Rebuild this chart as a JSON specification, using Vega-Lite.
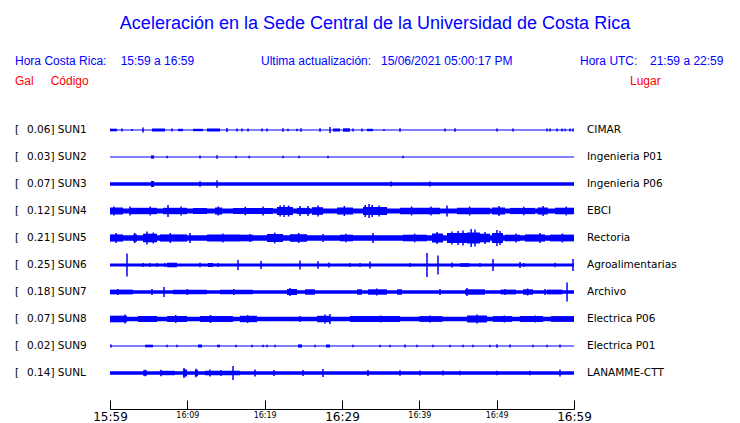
{
  "$schema": "https://vega.github.io/schema/vega-lite/v6.json",
  "autosize": {"type": "none"},
  "width": 464,
  "height": 369,
  "padding": {"left": 110, "top": 40, "right": 166, "bottom": 14},
  "background": "white",
  "config": {"view": {"stroke": null}, "text": {"font": "DejaVu Sans"}},
  "title": {
    "text": "Aceleración en la Sede Central de la Universidad de Costa Rica",
    "font": "Liberation Sans", "fontSize": 18, "fontWeight": "normal", "color": "#0000ff",
    "anchor": "middle", "frame": "group", "dx": 33, "offset": -11, "baseline": "bottom"
  },
  "datasets": {
    "traces": [
      {"i": 1, "code": "SUN1", "gal": "0.06", "place": "CIMAR", "base": 0.6},
      {"i": 2, "code": "SUN2", "gal": "0.03", "place": "Ingenieria P01", "base": 0.6},
      {"i": 3, "code": "SUN3", "gal": "0.07", "place": "Ingenieria P06", "base": 1.8},
      {"i": 4, "code": "SUN4", "gal": "0.12", "place": "EBCI", "base": 2.5},
      {"i": 5, "code": "SUN5", "gal": "0.21", "place": "Rectoria", "base": 2.7},
      {"i": 6, "code": "SUN6", "gal": "0.25", "place": "Agroalimentarias", "base": 1.5},
      {"i": 7, "code": "SUN7", "gal": "0.18", "place": "Archivo", "base": 1.8},
      {"i": 8, "code": "SUN8", "gal": "0.07", "place": "Electrica P06", "base": 2.2},
      {"i": 9, "code": "SUN9", "gal": "0.02", "place": "Electrica P01", "base": 0.6},
      {"i": 10, "code": "SUNL", "gal": "0.14", "place": "LANAMME-CTT", "base": 1.7}
    ],
    "bursts": [
      {"i":1,"t0":0,"t1":0.9,"a":1.3},{"i":1,"t0":5.43,"t1":7.11,"a":1.5},{"i":1,"t0":8.79,"t1":9.44,"a":1.2},{"i":1,"t0":10.73,"t1":12.03,"a":1.2},{"i":1,"t0":12.54,"t1":14.22,"a":1.5},{"i":1,"t0":28.84,"t1":29.74,"a":1.5},{"i":1,"t0":30.13,"t1":31.03,"a":1.7},{"i":1,"t0":33.23,"t1":34.01,"a":1.2},
      {"i":2,"t0":5.3,"t1":5.7,"a":1.6},
      {"i":3,"t0":5.3,"t1":5.7,"a":3},
      {"i":4,"t0":0,"t1":1.68,"a":3.5},{"i":4,"t0":2.59,"t1":6.08,"a":3.2},{"i":4,"t0":6.85,"t1":9.96,"a":3.2},{"i":4,"t0":10.73,"t1":12.54,"a":3},{"i":4,"t0":13.58,"t1":14.5,"a":3.5},{"i":4,"t0":15.91,"t1":21.08,"a":3.1},{"i":4,"t0":21.59,"t1":23.66,"a":4},{"i":4,"t0":24.18,"t1":25.86,"a":3.1},{"i":4,"t0":26.12,"t1":27.54,"a":3.8},{"i":4,"t0":29.35,"t1":31.42,"a":3.5},{"i":4,"t0":32.72,"t1":35.82,"a":4},{"i":4,"t0":37.5,"t1":42.67,"a":3.2},{"i":4,"t0":44.87,"t1":49.14,"a":3.2},{"i":4,"t0":49.4,"t1":51.08,"a":3.5},{"i":4,"t0":51.72,"t1":54.96,"a":3.1},{"i":4,"t0":55.3,"t1":56.6,"a":3.5},{"i":4,"t0":57.54,"t1":60,"a":3.3},
      {"i":5,"t0":0,"t1":1.68,"a":3.6},{"i":5,"t0":2.97,"t1":3.49,"a":3.6},{"i":5,"t0":4.27,"t1":6.08,"a":4.3},{"i":5,"t0":6.47,"t1":9.96,"a":3.6},{"i":5,"t0":12.54,"t1":16.81,"a":3.4},{"i":5,"t0":16.81,"t1":18.49,"a":3.3},{"i":5,"t0":20.3,"t1":22.37,"a":4},{"i":5,"t0":23.28,"t1":25.47,"a":3.8},{"i":5,"t0":29.74,"t1":31.42,"a":3.3},{"i":5,"t0":37.89,"t1":40.99,"a":3.3},{"i":5,"t0":41.64,"t1":43.06,"a":4.5},{"i":5,"t0":43.58,"t1":46.16,"a":5},{"i":5,"t0":46.16,"t1":47.84,"a":5.5},{"i":5,"t0":47.84,"t1":49.14,"a":4.3},{"i":5,"t0":49.4,"t1":50.82,"a":5},{"i":5,"t0":51.08,"t1":53,"a":3.3},{"i":5,"t0":53.66,"t1":56.25,"a":3.6},{"i":5,"t0":56.9,"t1":60,"a":3.4},
      {"i":6,"t0":7.37,"t1":8.66,"a":2.3},{"i":6,"t0":12.67,"t1":13.32,"a":2},{"i":6,"t0":45.3,"t1":46.5,"a":1.8},
      {"i":7,"t0":0,"t1":2.97,"a":2.4},{"i":7,"t0":8.15,"t1":12.54,"a":2.3},{"i":7,"t0":14.22,"t1":18.49,"a":2.3},{"i":7,"t0":22.89,"t1":24.18,"a":3},{"i":7,"t0":25.22,"t1":26.51,"a":2.7},{"i":7,"t0":31.94,"t1":32.59,"a":2.7},{"i":7,"t0":33.36,"t1":35.82,"a":2.7},{"i":7,"t0":37.11,"t1":37.76,"a":2.7},{"i":7,"t0":45.91,"t1":48.49,"a":2.7},{"i":7,"t0":50.5,"t1":52.5,"a":2.4},{"i":7,"t0":53.41,"t1":54.7,"a":2.7},{"i":7,"t0":56.5,"t1":58.5,"a":2.4},
      {"i":8,"t0":0,"t1":2.2,"a":3.3},{"i":8,"t0":3.6,"t1":6.08,"a":3},{"i":8,"t0":7.37,"t1":9.96,"a":3},{"i":8,"t0":11.64,"t1":15.91,"a":3},{"i":8,"t0":16.81,"t1":19.01,"a":3.2},{"i":8,"t0":26.77,"t1":28.45,"a":3.2},{"i":8,"t0":31.03,"t1":37.5,"a":2.9},{"i":8,"t0":40,"t1":43,"a":2.9},{"i":8,"t0":46.16,"t1":48.75,"a":3.5},{"i":8,"t0":49.5,"t1":52,"a":2.9},{"i":8,"t0":53,"t1":56,"a":3},{"i":8,"t0":57,"t1":60,"a":2.9},
      {"i":9,"t0":4.53,"t1":5.56,"a":1.3},{"i":9,"t0":11.38,"t1":11.9,"a":1.5},{"i":9,"t0":13.84,"t1":14.22,"a":1.3},{"i":9,"t0":24.31,"t1":24.83,"a":1.6},{"i":9,"t0":27.93,"t1":28.45,"a":1.5},
      {"i":10,"t0":4.27,"t1":4.78,"a":2.6},{"i":10,"t0":6.47,"t1":8.4,"a":2.2},{"i":10,"t0":9.44,"t1":9.96,"a":3.5},{"i":10,"t0":10.99,"t1":11.38,"a":3.2},{"i":10,"t0":12.28,"t1":16.81,"a":2.2}
    ],
    "spikes": [
      {"i":1,"t":1.55,"a":1.5},{"i":1,"t":2.84,"a":1},{"i":1,"t":4.27,"a":2.5},{"i":1,"t":8.02,"a":1.5},{"i":1,"t":15.13,"a":2},{"i":1,"t":16.42,"a":1.5},{"i":1,"t":17.07,"a":1.5},{"i":1,"t":17.85,"a":1.5},{"i":1,"t":19.66,"a":1.5},{"i":1,"t":20.3,"a":1.5},{"i":1,"t":22.37,"a":1.8},{"i":1,"t":23.02,"a":1.2},{"i":1,"t":24.18,"a":1.2},{"i":1,"t":24.7,"a":1.8},{"i":1,"t":27.16,"a":1.8},{"i":1,"t":28.45,"a":3},{"i":1,"t":31.42,"a":1.5},{"i":1,"t":32.59,"a":1.5},{"i":1,"t":35.43,"a":1},{"i":1,"t":37.5,"a":1.8},{"i":1,"t":43.32,"a":1.5},{"i":1,"t":44.61,"a":1.8},{"i":1,"t":50.04,"a":1.5},{"i":1,"t":52.11,"a":1.5},{"i":1,"t":56.51,"a":1.5},{"i":1,"t":56.9,"a":1.5},{"i":1,"t":57.8,"a":1.5},{"i":1,"t":58.45,"a":1.5},{"i":1,"t":58.84,"a":1.2},{"i":1,"t":59.48,"a":1.5},{"i":1,"t":59.87,"a":1.5},
      {"i":2,"t":7.37,"a":1.2},{"i":2,"t":11.64,"a":1.5},{"i":2,"t":13.84,"a":1.8},{"i":2,"t":16.29,"a":1.3},{"i":2,"t":18.0,"a":1.3},{"i":2,"t":22.37,"a":1.2},{"i":2,"t":24.44,"a":1.2},{"i":2,"t":28.19,"a":1.3},{"i":2,"t":37.89,"a":1.3},
      {"i":3,"t":11.64,"a":2.8},{"i":3,"t":13.84,"a":3.8},{"i":3,"t":36.34,"a":2.5},{"i":3,"t":41.38,"a":2.5},
      {"i":4,"t":0.5,"a":4.5},{"i":4,"t":2.59,"a":4.5},{"i":4,"t":5.2,"a":4.5},{"i":4,"t":7.5,"a":6},{"i":4,"t":9.2,"a":4.5},{"i":4,"t":14.0,"a":4.5},{"i":4,"t":17.5,"a":4.3},{"i":4,"t":19.8,"a":4.5},{"i":4,"t":22.0,"a":5.5},{"i":4,"t":22.5,"a":6},{"i":4,"t":23.1,"a":5.5},{"i":4,"t":24.57,"a":5},{"i":4,"t":25.6,"a":5},{"i":4,"t":26.9,"a":5.5},{"i":4,"t":30.3,"a":5},{"i":4,"t":33.0,"a":6},{"i":4,"t":33.5,"a":7},{"i":4,"t":33.9,"a":6},{"i":4,"t":34.8,"a":5.5},{"i":4,"t":39.0,"a":4.5},{"i":4,"t":41.5,"a":4.5},{"i":4,"t":43.58,"a":5.5},{"i":4,"t":46.5,"a":4.5},{"i":4,"t":50.3,"a":5},{"i":4,"t":53.5,"a":4.3},{"i":4,"t":56.0,"a":5},{"i":4,"t":59.0,"a":4.5},
      {"i":5,"t":0.8,"a":5},{"i":5,"t":3.2,"a":5},{"i":5,"t":4.78,"a":6.5},{"i":5,"t":5.6,"a":5.5},{"i":5,"t":7.8,"a":5},{"i":5,"t":10.34,"a":5},{"i":5,"t":14.6,"a":4.5},{"i":5,"t":18.1,"a":4},{"i":5,"t":21.3,"a":5.5},{"i":5,"t":24.4,"a":5},{"i":5,"t":27.54,"a":4},{"i":5,"t":30.5,"a":4.3},{"i":5,"t":34.01,"a":5},{"i":5,"t":39.4,"a":4.3},{"i":5,"t":42.3,"a":6},{"i":5,"t":44.2,"a":6.5},{"i":5,"t":45.0,"a":7},{"i":5,"t":45.65,"a":7.5},{"i":5,"t":46.7,"a":9},{"i":5,"t":47.2,"a":8.5},{"i":5,"t":48.5,"a":6},{"i":5,"t":50.04,"a":8},{"i":5,"t":50.43,"a":7},{"i":5,"t":52.5,"a":4.5},{"i":5,"t":55.6,"a":5},{"i":5,"t":58.5,"a":4.5},
      {"i":6,"t":2.2,"a":11.5},{"i":6,"t":4.27,"a":2},{"i":6,"t":5.17,"a":2},{"i":6,"t":6.08,"a":2},{"i":6,"t":7.11,"a":2},{"i":6,"t":11.64,"a":2.2},{"i":6,"t":13.97,"a":2},{"i":6,"t":16.55,"a":5},{"i":6,"t":19.53,"a":4},{"i":6,"t":24.57,"a":4.5},{"i":6,"t":26.9,"a":3.8},{"i":6,"t":28.32,"a":2.5},{"i":6,"t":31.03,"a":2},{"i":6,"t":32.33,"a":2},{"i":6,"t":33.62,"a":3.5},{"i":6,"t":38.79,"a":2},{"i":6,"t":40.99,"a":12},{"i":6,"t":42.41,"a":9.5},{"i":6,"t":44.22,"a":2.5},{"i":6,"t":47.84,"a":2},{"i":6,"t":49.53,"a":6},{"i":6,"t":53.02,"a":3},{"i":6,"t":53.5,"a":2},{"i":6,"t":57.54,"a":2.2},{"i":6,"t":59.87,"a":6},
      {"i":7,"t":1.0,"a":3},{"i":7,"t":5.43,"a":3},{"i":7,"t":6.98,"a":5},{"i":7,"t":10.0,"a":3},{"i":7,"t":16.0,"a":3},{"i":7,"t":23.28,"a":4},{"i":7,"t":34.5,"a":3.5},{"i":7,"t":42.67,"a":3},{"i":7,"t":46.16,"a":4},{"i":7,"t":51.08,"a":3},{"i":7,"t":54.0,"a":3.5},{"i":7,"t":56.25,"a":3},{"i":7,"t":59.1,"a":9.5},
      {"i":8,"t":1.94,"a":4.5},{"i":8,"t":8.5,"a":4},{"i":8,"t":13.0,"a":4},{"i":8,"t":17.8,"a":4},{"i":8,"t":24.57,"a":3},{"i":8,"t":27.8,"a":4.5},{"i":8,"t":28.45,"a":5},{"i":8,"t":35.0,"a":3.5},{"i":8,"t":41.38,"a":3.5},{"i":8,"t":47.46,"a":4.5},{"i":8,"t":51.0,"a":3.5},{"i":8,"t":55.0,"a":3.5},
      {"i":9,"t":0.13,"a":1.5},{"i":9,"t":7.37,"a":1.2},{"i":9,"t":8.66,"a":1.2},{"i":9,"t":16.29,"a":1.2},{"i":9,"t":18.36,"a":1.2},{"i":9,"t":19.79,"a":1.3},{"i":9,"t":20.3,"a":1.2},{"i":9,"t":21.34,"a":1.3},{"i":9,"t":26.51,"a":1.2},{"i":9,"t":31.42,"a":1.2},{"i":9,"t":34.91,"a":1.2},{"i":9,"t":36.2,"a":1.2},{"i":9,"t":38.15,"a":1.5},{"i":9,"t":39.7,"a":1.2},{"i":9,"t":41.77,"a":1.2},{"i":9,"t":43.97,"a":1.2},{"i":9,"t":45.65,"a":1.2},{"i":9,"t":46.94,"a":1.2},{"i":9,"t":49.14,"a":1.2},{"i":9,"t":50.04,"a":1.8},{"i":9,"t":51.72,"a":1.5},{"i":9,"t":54.7,"a":1.2},{"i":9,"t":56.51,"a":1.2},{"i":9,"t":58.19,"a":1.5},
      {"i":10,"t":4.53,"a":3.2},{"i":10,"t":6.59,"a":3.2},{"i":10,"t":9.57,"a":5},{"i":10,"t":11.12,"a":4.2},{"i":10,"t":12.93,"a":3.5},{"i":10,"t":14.35,"a":3},{"i":10,"t":15.91,"a":7},{"i":10,"t":18.75,"a":3.5},{"i":10,"t":21.21,"a":3},{"i":10,"t":24.96,"a":3},{"i":10,"t":27.54,"a":4},{"i":10,"t":33.36,"a":3},{"i":10,"t":37.5,"a":2.8},{"i":10,"t":40.09,"a":2.5},{"i":10,"t":43.06,"a":2.5},{"i":10,"t":45.26,"a":2.2},{"i":10,"t":50.04,"a":2.2},{"i":10,"t":54.31,"a":2.2},{"i":10,"t":58.19,"a":3.5}
    ]
  },
  "layer": [
    {
      "data": {"name": "traces"},
      "transform": [
        {"calculate": "datum.i - datum.base / 27", "as": "lo"},
        {"calculate": "datum.i + datum.base / 27", "as": "hi"}
      ],
      "mark": {"type": "rect", "color": "#0000ff"},
      "encoding": {
        "x": {"datum": 0, "type": "quantitative", "scale": {"domain": [0, 60], "nice": false, "zero": false}},
        "x2": {"datum": 60},
        "y": {"field": "lo", "type": "quantitative", "scale": {"domain": [-2.3333, 11.3333], "reverse": true, "nice": false, "zero": false}, "axis": null},
        "y2": {"field": "hi"}
      }
    },
    {
      "data": {"name": "bursts"},
      "transform": [
        {"calculate": "datum.i - datum.a / 27", "as": "lo"},
        {"calculate": "datum.i + datum.a / 27", "as": "hi"}
      ],
      "mark": {"type": "rect", "color": "#0000ff"},
      "encoding": {
        "x": {"field": "t0", "type": "quantitative", "scale": {"domain": [0, 60], "nice": false, "zero": false},
          "axis": {
            "values": [0, 5, 10, 15, 20, 25, 30, 35, 40, 45, 50, 55, 60],
            "title": null, "grid": false,
            "domainColor": "black", "domainWidth": 1,
            "tickColor": "black", "tickSize": -9, "tickWidth": 1,
            "labelPadding": 11, "labelFont": "DejaVu Sans", "labelColor": "black",
            "labelFontSize": {"condition": {"test": "datum.value % 30 === 0", "value": 12}, "value": 8},
            "labelExpr": "datum.value % 10 === 0 ? (floor((959 + datum.value) / 60) + ':' + ((959 + datum.value) % 60 < 10 ? '0' : '') + ((959 + datum.value) % 60)) : ''",
            "labelOverlap": false, "labelFlush": false
          }},
        "x2": {"field": "t1"},
        "y": {"field": "lo", "type": "quantitative", "scale": {"domain": [-2.3333, 11.3333], "reverse": true, "nice": false, "zero": false}, "axis": null},
        "y2": {"field": "hi"}
      }
    },
    {
      "data": {"name": "spikes"},
      "transform": [
        {"calculate": "datum.i - datum.a / 27", "as": "lo"},
        {"calculate": "datum.i + datum.a / 27", "as": "hi"}
      ],
      "mark": {"type": "rule", "color": "#0000ff", "strokeWidth": 1.5},
      "encoding": {
        "x": {"field": "t", "type": "quantitative", "scale": {"domain": [0, 60], "nice": false, "zero": false}},
        "y": {"field": "lo", "type": "quantitative", "scale": {"domain": [-2.3333, 11.3333], "reverse": true, "nice": false, "zero": false}, "axis": null},
        "y2": {"field": "hi"}
      }
    },
    {
      "data": {"name": "traces"},
      "mark": {"type": "text", "align": "left", "baseline": "middle", "fontSize": 10.5, "color": "black", "text": "["},
      "encoding": {
        "x": {"datum": -12.28, "type": "quantitative", "scale": {"domain": [0, 60], "nice": false, "zero": false}},
        "y": {"field": "i", "type": "quantitative", "scale": {"domain": [-2.3333, 11.3333], "reverse": true, "nice": false, "zero": false}, "axis": null}
      }
    },
    {
      "data": {"name": "traces"},
      "transform": [{"calculate": "datum.gal + '] ' + datum.code", "as": "lab"}],
      "mark": {"type": "text", "align": "left", "baseline": "middle", "fontSize": 10.5, "color": "black"},
      "encoding": {
        "x": {"datum": -10.73, "type": "quantitative", "scale": {"domain": [0, 60], "nice": false, "zero": false}},
        "y": {"field": "i", "type": "quantitative", "scale": {"domain": [-2.3333, 11.3333], "reverse": true, "nice": false, "zero": false}, "axis": null},
        "text": {"field": "lab"}
      }
    },
    {
      "data": {"name": "traces"},
      "mark": {"type": "text", "align": "left", "baseline": "middle", "fontSize": 10.5, "color": "black"},
      "encoding": {
        "x": {"datum": 61.68, "type": "quantitative", "scale": {"domain": [0, 60], "nice": false, "zero": false}},
        "y": {"field": "i", "type": "quantitative", "scale": {"domain": [-2.3333, 11.3333], "reverse": true, "nice": false, "zero": false}, "axis": null},
        "text": {"field": "place"}
      }
    },
    {
      "data": {"values": [{}]},
      "mark": {"type": "text", "align": "left", "baseline": "middle", "font": "Liberation Sans", "fontSize": 12, "color": "#0000ff", "text": "Hora Costa Rica:"},
      "encoding": {"x": {"datum": -12.28, "type": "quantitative"}, "y": {"datum": -1.556, "type": "quantitative", "axis": null}}
    },
    {
      "data": {"values": [{}]},
      "mark": {"type": "text", "align": "left", "baseline": "middle", "font": "Liberation Sans", "fontSize": 12, "color": "#0000ff", "text": "15:59 a 16:59"},
      "encoding": {"x": {"datum": 1.38, "type": "quantitative"}, "y": {"datum": -1.556, "type": "quantitative", "axis": null}}
    },
    {
      "data": {"values": [{}]},
      "mark": {"type": "text", "align": "left", "baseline": "middle", "font": "Liberation Sans", "fontSize": 12, "color": "#0000ff", "text": "Ultima actualización:"},
      "encoding": {"x": {"datum": 19.53, "type": "quantitative"}, "y": {"datum": -1.556, "type": "quantitative", "axis": null}}
    },
    {
      "data": {"values": [{}]},
      "mark": {"type": "text", "align": "left", "baseline": "middle", "font": "Liberation Sans", "fontSize": 12, "color": "#0000ff", "text": "15/06/2021 05:00:17 PM"},
      "encoding": {"x": {"datum": 35.04, "type": "quantitative"}, "y": {"datum": -1.556, "type": "quantitative", "axis": null}}
    },
    {
      "data": {"values": [{}]},
      "mark": {"type": "text", "align": "left", "baseline": "middle", "font": "Liberation Sans", "fontSize": 12, "color": "#0000ff", "text": "Hora UTC:"},
      "encoding": {"x": {"datum": 60.78, "type": "quantitative"}, "y": {"datum": -1.556, "type": "quantitative", "axis": null}}
    },
    {
      "data": {"values": [{}]},
      "mark": {"type": "text", "align": "left", "baseline": "middle", "font": "Liberation Sans", "fontSize": 12, "color": "#0000ff", "text": "21:59 a 22:59"},
      "encoding": {"x": {"datum": 69.83, "type": "quantitative"}, "y": {"datum": -1.556, "type": "quantitative", "axis": null}}
    },
    {
      "data": {"values": [{}]},
      "mark": {"type": "text", "align": "left", "baseline": "middle", "font": "Liberation Sans", "fontSize": 12, "color": "#ff0000", "text": "Gal"},
      "encoding": {"x": {"datum": -12.28, "type": "quantitative"}, "y": {"datum": -0.815, "type": "quantitative", "axis": null}}
    },
    {
      "data": {"values": [{}]},
      "mark": {"type": "text", "align": "left", "baseline": "middle", "font": "Liberation Sans", "fontSize": 12, "color": "#ff0000", "text": "Código"},
      "encoding": {"x": {"datum": -7.67, "type": "quantitative"}, "y": {"datum": -0.815, "type": "quantitative", "axis": null}}
    },
    {
      "data": {"values": [{}]},
      "mark": {"type": "text", "align": "left", "baseline": "middle", "font": "Liberation Sans", "fontSize": 12, "color": "#ff0000", "text": "Lugar"},
      "encoding": {"x": {"datum": 67.24, "type": "quantitative"}, "y": {"datum": -0.815, "type": "quantitative", "axis": null}}
    }
  ]
}
